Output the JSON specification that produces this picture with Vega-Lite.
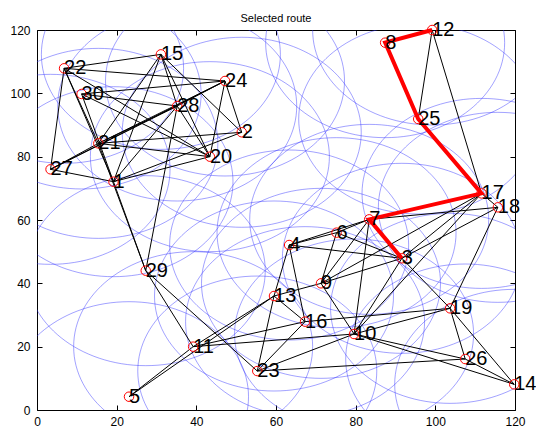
{
  "$schema": "https://vega.github.io/schema/vega-lite/v6.json",
  "width": 478,
  "height": 380,
  "autosize": {"type": "none"},
  "padding": {"left": 37, "top": 30, "right": 21, "bottom": 23},
  "background": "white",
  "title": {"text": "Selected route", "fontSize": 11, "fontWeight": "normal", "font": "Liberation Sans", "offset": -4, "color": "black"},
  "config": {
    "view": {"stroke": "black", "strokeWidth": 1},
    "axis": {"grid": false, "domain": false, "title": null, "tickColor": "black", "labelColor": "black", "labelFont": "Liberation Sans", "labelFontSize": 12, "labelFlush": false, "labelOverlap": false, "tickSize": -5, "tickWidth": 1}
  },
  "datasets": {
    "nodes": [
      {"id": 1, "x": 19.2, "y": 72.1},
      {"id": 2, "x": 51.4, "y": 87.7},
      {"id": 3, "x": 91.6, "y": 47.9},
      {"id": 4, "x": 63.3, "y": 52.1},
      {"id": 5, "x": 23.1, "y": 4.2},
      {"id": 6, "x": 75.2, "y": 56.0},
      {"id": 7, "x": 83.4, "y": 60.2},
      {"id": 8, "x": 87.4, "y": 116.0},
      {"id": 9, "x": 71.3, "y": 40.0},
      {"id": 10, "x": 79.6, "y": 24.0},
      {"id": 11, "x": 39.2, "y": 20.0},
      {"id": 12, "x": 99.2, "y": 120.0},
      {"id": 13, "x": 59.5, "y": 36.0},
      {"id": 14, "x": 119.8, "y": 8.1},
      {"id": 15, "x": 31.1, "y": 112.3},
      {"id": 16, "x": 67.3, "y": 27.9},
      {"id": 17, "x": 111.6, "y": 68.4},
      {"id": 18, "x": 115.7, "y": 64.0},
      {"id": 19, "x": 103.7, "y": 32.1},
      {"id": 20, "x": 43.4, "y": 80.0},
      {"id": 21, "x": 15.4, "y": 84.2},
      {"id": 22, "x": 6.8, "y": 107.9},
      {"id": 23, "x": 55.3, "y": 12.3},
      {"id": 24, "x": 47.2, "y": 103.9},
      {"id": 25, "x": 95.7, "y": 91.9},
      {"id": 26, "x": 107.5, "y": 16.1},
      {"id": 27, "x": 3.4, "y": 76.0},
      {"id": 28, "x": 35.2, "y": 96.0},
      {"id": 29, "x": 27.3, "y": 44.0},
      {"id": 30, "x": 11.2, "y": 99.8}
    ],
    "edges": [
      {"s": 22, "t": 15}, {"s": 22, "t": 24}, {"s": 22, "t": 27}, {"s": 22, "t": 21}, {"s": 22, "t": 1}, {"s": 22, "t": 20},
      {"s": 30, "t": 28}, {"s": 30, "t": 20}, {"s": 30, "t": 1}, {"s": 30, "t": 24},
      {"s": 15, "t": 28}, {"s": 15, "t": 21}, {"s": 15, "t": 1}, {"s": 15, "t": 20}, {"s": 15, "t": 2},
      {"s": 24, "t": 28}, {"s": 24, "t": 27}, {"s": 24, "t": 21}, {"s": 24, "t": 2}, {"s": 24, "t": 20},
      {"s": 28, "t": 21}, {"s": 28, "t": 27}, {"s": 28, "t": 20}, {"s": 28, "t": 1}, {"s": 28, "t": 29},
      {"s": 2, "t": 21}, {"s": 2, "t": 1},
      {"s": 20, "t": 21}, {"s": 20, "t": 1},
      {"s": 21, "t": 27}, {"s": 21, "t": 29},
      {"s": 1, "t": 27}, {"s": 1, "t": 29},
      {"s": 29, "t": 11}, {"s": 29, "t": 23},
      {"s": 5, "t": 11}, {"s": 5, "t": 13},
      {"s": 11, "t": 13}, {"s": 11, "t": 10}, {"s": 11, "t": 16},
      {"s": 13, "t": 4}, {"s": 13, "t": 9}, {"s": 13, "t": 16}, {"s": 13, "t": 23},
      {"s": 4, "t": 6}, {"s": 4, "t": 7}, {"s": 4, "t": 3}, {"s": 4, "t": 16},
      {"s": 6, "t": 7}, {"s": 6, "t": 9}, {"s": 6, "t": 3},
      {"s": 7, "t": 9}, {"s": 7, "t": 10}, {"s": 7, "t": 18},
      {"s": 9, "t": 3}, {"s": 9, "t": 10}, {"s": 9, "t": 17},
      {"s": 16, "t": 19}, {"s": 16, "t": 23},
      {"s": 10, "t": 3}, {"s": 10, "t": 17}, {"s": 10, "t": 14}, {"s": 10, "t": 26}, {"s": 10, "t": 19}, {"s": 10, "t": 23},
      {"s": 3, "t": 17}, {"s": 3, "t": 18}, {"s": 3, "t": 19},
      {"s": 17, "t": 18}, {"s": 17, "t": 12}, {"s": 17, "t": 25}, {"s": 18, "t": 19},
      {"s": 12, "t": 25}, {"s": 12, "t": 8}, {"s": 8, "t": 25}, {"s": 17, "t": 7}, {"s": 7, "t": 3},
      {"s": 19, "t": 26}, {"s": 19, "t": 14}, {"s": 26, "t": 14}, {"s": 23, "t": 26}
    ],
    "route": [
      {"step": 1, "id": 12},
      {"step": 2, "id": 8},
      {"step": 3, "id": 25},
      {"step": 4, "id": 17},
      {"step": 5, "id": 7},
      {"step": 6, "id": 3}
    ]
  },
  "resolve": {"axis": {"x": "independent", "y": "independent"}},
  "layer": [
    {
      "data": {"name": "nodes"},
      "mark": {"type": "point", "shape": "M -1 0 C -1 -0.439 -0.5523 -0.795 0 -0.795 C 0.5523 -0.795 1 -0.439 1 0 C 1 0.439 0.5523 0.795 0 0.795 C -0.5523 0.795 -1 0.439 -1 0 Z", "size": 57121, "filled": false, "stroke": "#2a2aff", "strokeOpacity": 0.55, "strokeWidth": 0.8, "opacity": 1, "clip": true},
      "encoding": {
        "x": {"field": "x", "type": "quantitative", "scale": {"domain": [0, 120], "nice": false, "zero": false}, "axis": {"orient": "bottom", "values": [0, 20, 40, 60, 80, 100, 120], "labelPadding": 11}},
        "y": {"field": "y", "type": "quantitative", "scale": {"domain": [0, 120], "nice": false, "zero": false}, "axis": {"orient": "left", "values": [0, 20, 40, 60, 80, 100, 120], "labelPadding": 12}}
      }
    },
    {
      "data": {"name": "edges"},
      "transform": [
        {"lookup": "s", "from": {"data": {"name": "nodes"}, "key": "id", "fields": ["x", "y"]}, "as": ["x1", "y1"]},
        {"lookup": "t", "from": {"data": {"name": "nodes"}, "key": "id", "fields": ["x", "y"]}, "as": ["x2", "y2"]}
      ],
      "mark": {"type": "rule", "color": "black", "strokeWidth": 1},
      "encoding": {
        "x": {"field": "x1", "type": "quantitative", "axis": {"orient": "top", "values": [0, 20, 40, 60, 80, 100, 120], "labels": false}},
        "y": {"field": "y1", "type": "quantitative", "axis": {"orient": "right", "values": [0, 20, 40, 60, 80, 100, 120], "labels": false}},
        "x2": {"field": "x2"},
        "y2": {"field": "y2"}
      }
    },
    {
      "data": {"name": "route"},
      "transform": [
        {"lookup": "id", "from": {"data": {"name": "nodes"}, "key": "id", "fields": ["x", "y"]}}
      ],
      "mark": {"type": "line", "color": "#ff0000", "strokeWidth": 4, "strokeJoin": "miter"},
      "encoding": {
        "x": {"field": "x", "type": "quantitative", "axis": null},
        "y": {"field": "y", "type": "quantitative", "axis": null},
        "order": {"field": "step", "type": "quantitative"}
      }
    },
    {
      "data": {"name": "nodes"},
      "mark": {"type": "point", "shape": "circle", "size": 90, "filled": false, "stroke": "#ff0000", "strokeWidth": 1, "opacity": 1},
      "encoding": {
        "x": {"field": "x", "type": "quantitative", "axis": null},
        "y": {"field": "y", "type": "quantitative", "axis": null}
      }
    },
    {
      "data": {"name": "nodes"},
      "mark": {"type": "text", "align": "left", "baseline": "middle", "dx": 0, "dy": 0, "fontSize": 20, "font": "Liberation Sans", "color": "black"},
      "encoding": {
        "x": {"field": "x", "type": "quantitative", "axis": null},
        "y": {"field": "y", "type": "quantitative", "axis": null},
        "text": {"field": "id", "type": "nominal"}
      }
    }
  ]
}
